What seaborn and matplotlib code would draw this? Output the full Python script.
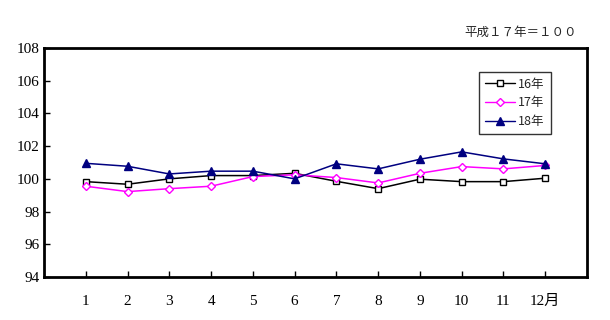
import matplotlib
matplotlib.use("Agg")
import matplotlib.pyplot as plt
import seaborn as sns
import pandas as pd
from matplotlib.lines import Line2D

months = list(range(1, 13))
month_labels = ["1", "2", "3", "4", "5", "6", "7", "8", "9", "10", "11", "12月"]
series_names = ["16年", "17年", "18年"]
v16 = [99.83, 99.67, 100.0, 100.2, 100.2, 100.34, 99.85, 99.4, 99.98, 99.83, 99.83, 100.04]
v17 = [99.55, 99.22, 99.4, 99.55, 100.14, 100.25, 100.08, 99.75, 100.34, 100.75, 100.61, 100.82]
v18 = [100.95, 100.77, 100.3, 100.47, 100.47, 100.0, 100.92, 100.61, 101.2, 101.65, 101.22, 100.92]
y_ticks = [94, 96, 98, 100, 102, 104, 106, 108]
note = "平成１７年＝１００"

df = pd.DataFrame({
    "month": months * 3,
    "value": v16 + v17 + v18,
    "series": [series_names[0]] * 12 + [series_names[1]] * 12 + [series_names[2]] * 12,
})

sns.set_theme(style="white")
plt.rcParams["font.family"] = ["Noto Sans CJK JP", "DejaVu Sans"]
tick_font = ["Liberation Serif", "Noto Sans CJK JP"]

fig = plt.figure(figsize=(6.1, 3.2), dpi=100)
ax = fig.add_axes([44 / 610, 43 / 320, (587 - 44) / 610, (277 - 48) / 320])

colors = ["#000000", "#FF00FF", "#000080"]
palette = dict(zip(series_names, colors))
markers = dict(zip(series_names, ["s", "D", "^"]))
sns.lineplot(data=df, x="month", y="value", hue="series", style="series",
             palette=palette, markers=markers, dashes=False, ax=ax,
             linewidth=1.1, markersize=5, legend=False)

msizes = [4.8, 3.6, 5.6]
faces = ["white", "white", "#000080"]
for line, c, ms, fc in zip(ax.get_lines(), colors, msizes, faces):
    line.set_markerfacecolor(fc)
    line.set_markeredgecolor(c)
    line.set_markersize(ms)
    line.set_markeredgewidth(1.0)

ax.set_xlim(0, 13)
ax.set_ylim(94, 108)
ax.set_xticks(months)
ax.set_xticklabels(month_labels, family=tick_font)
ax.set_yticks(y_ticks)
ax.set_yticklabels([str(t) for t in y_ticks], family=tick_font)
ax.set_xlabel("")
ax.set_ylabel("")
ax.tick_params(axis="both", direction="in", length=4, width=1, colors="black",
               labelsize=11, bottom=True, left=True)
ax.tick_params(axis="x", pad=13)
ax.tick_params(axis="y", pad=3)
for s in ax.spines.values():
    s.set_visible(True)
    s.set_color("black")
    s.set_linewidth(2)
ax.grid(False)

handles = []
for c, mk, ms, fc in zip(colors, ["s", "D", "^"], msizes, faces):
    handles.append(Line2D([], [], color=c, marker=mk, markerfacecolor=fc,
                          markeredgecolor=c, markersize=ms, lw=1))
leg = ax.legend(handles, series_names, loc="upper left",
                bbox_to_anchor=((479 - 44) / 543, (277 - 72) / 229),
                frameon=True, fancybox=False, fontsize=9, handlelength=2.4,
                handletextpad=0.3, borderpad=0.45, labelspacing=0.45, borderaxespad=0)
leg.get_frame().set_edgecolor("black")
leg.get_frame().set_linewidth(1)

fig.text(577 / 610, 1 - 32 / 320, note, ha="right", va="center", fontsize=9)

fig.savefig("out.png", dpi=100)
